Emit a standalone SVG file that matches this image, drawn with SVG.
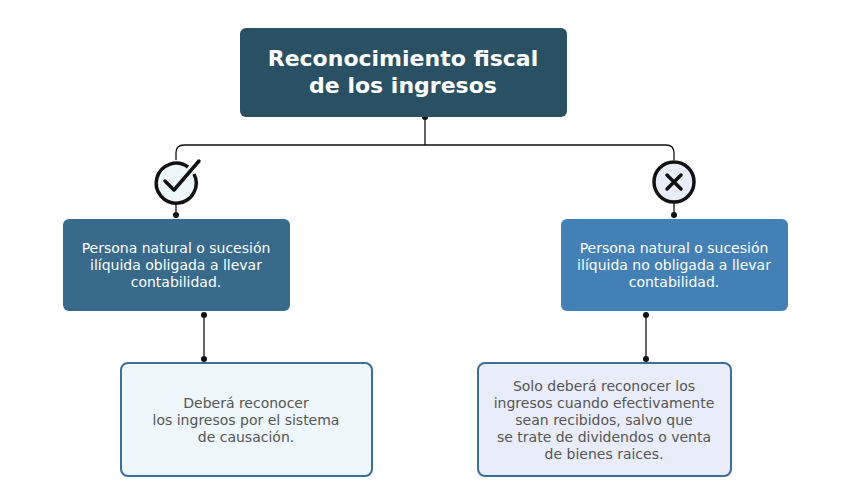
<svg xmlns="http://www.w3.org/2000/svg" width="850" height="504" viewBox="0 0 850 504">
<style>
text{font-family:"DejaVu Sans",sans-serif;text-anchor:middle}
.t{font-size:22px;font-weight:bold;fill:#fff}
.w{font-size:14px;fill:#fff}
.g{font-size:14px;fill:#555}
.c{fill:none;stroke:#111;stroke-width:1.3}
.d{fill:#111}
</style>
<rect width="850" height="504" fill="#fff"/>
<g id="connectors">
<path class="c" d="M425,117V145M176,160V153Q176,145 184,145H666Q674,145 674,153V160M176,202V215M674,202V215M204,315V359M646,315V359"/>
<circle class="d" cx="425" cy="117" r="3"/>
<circle class="d" cx="176" cy="215" r="3"/><circle class="d" cx="674" cy="215" r="3"/>
<circle class="d" cx="204" cy="315" r="3"/><circle class="d" cx="204" cy="359" r="3"/>
<circle class="d" cx="646" cy="315" r="3"/><circle class="d" cx="646" cy="359" r="3"/>
</g>
<g id="icon-check">
<path d="M194,174A20,20 0 1 1 188,167" fill="#eef7fb" stroke="#111" stroke-width="3.5"/>
<path d="M165,181L174,190L199,161" fill="none" stroke="#111" stroke-width="3.5" stroke-linecap="round" stroke-linejoin="round"/>
</g>
<g id="icon-x">
<circle cx="674" cy="182" r="20" fill="#e9edf9" stroke="#111" stroke-width="3.5"/>
<path d="M667,175L681,189M681,175L667,189" stroke="#111" stroke-width="3.5" stroke-linecap="round"/>
</g>
<g id="title">
<rect x="240" y="28" width="327" height="89" rx="6" fill="#2a5163"/>
<text class="t" x="403" y="66">Reconocimiento fiscal</text>
<text class="t" x="403" y="93">de los ingresos</text>
</g>
<g id="left">
<rect x="63" y="219" width="227" height="92" rx="6" fill="#386a8c"/>
<text class="w" x="176" y="253">Persona natural o sucesión</text>
<text class="w" x="176" y="270">ilíquida obligada a llevar</text>
<text class="w" x="176" y="287">contabilidad.</text>
</g>
<g id="right">
<rect x="561" y="219" width="227" height="92" rx="6" fill="#4380b5"/>
<text class="w" x="674" y="253">Persona natural o sucesión</text>
<text class="w" x="674" y="270">ilíquida no obligada a llevar</text>
<text class="w" x="674" y="287">contabilidad.</text>
</g>
<g id="left-bottom">
<rect x="121" y="363" width="251" height="113" rx="7" fill="#eef7fb" stroke="#3d6e96" stroke-width="2"/>
<text class="g" x="246" y="408">Deberá reconocer</text>
<text class="g" x="246" y="425">los ingresos por el sistema</text>
<text class="g" x="246" y="442">de causación.</text>
</g>
<g id="right-bottom">
<rect x="478" y="363" width="253" height="113" rx="7" fill="#e9edf9" stroke="#3d6e96" stroke-width="2"/>
<text class="g" x="604" y="391">Solo deberá reconocer los</text>
<text class="g" x="604" y="408">ingresos cuando efectivamente</text>
<text class="g" x="604" y="425">sean recibidos, salvo que</text>
<text class="g" x="604" y="442">se trate de dividendos o venta</text>
<text class="g" x="604" y="459">de bienes raices.</text>
</g>
</svg>
